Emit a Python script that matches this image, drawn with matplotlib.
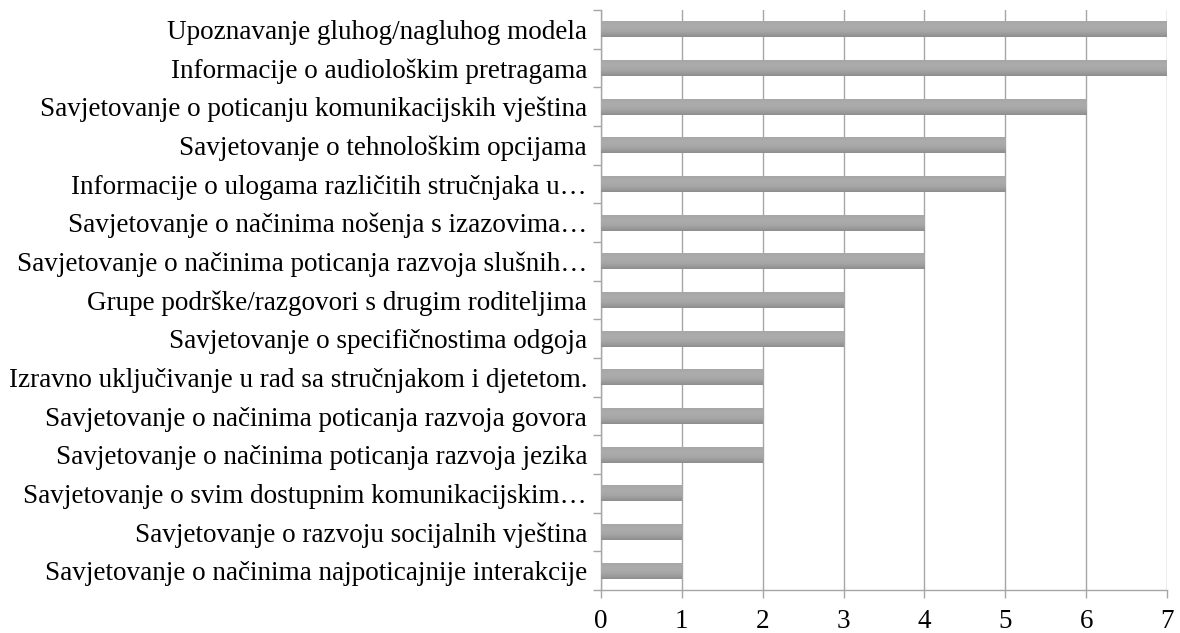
import numpy as np
import matplotlib
matplotlib.use('Agg')
from matplotlib import pyplot as plt

# categories listed from bottom to top
categories = [
    'Savjetovanje o načinima najpoticajnije interakcije',
    'Savjetovanje o razvoju socijalnih vještina',
    'Savjetovanje o svim dostupnim komunikacijskim…',
    'Savjetovanje o načinima poticanja razvoja jezika',
    'Savjetovanje o načinima poticanja razvoja govora',
    'Izravno uključivanje u rad sa stručnjakom i djetetom.',
    'Savjetovanje o specifičnostima odgoja',
    'Grupe podrške/razgovori s drugim roditeljima',
    'Savjetovanje o načinima poticanja razvoja slušnih…',
    'Savjetovanje o načinima nošenja s izazovima…',
    'Informacije o ulogama različitih stručnjaka u…',
    'Savjetovanje o tehnološkim opcijama',
    'Savjetovanje o poticanju komunikacijskih vještina',
    'Informacije o audiološkim pretragama',
    'Upoznavanje gluhog/nagluhog modela',
]
values = [1, 1, 1, 2, 2, 2, 3, 3, 4, 4, 5, 5, 6, 7, 7]
x_ticks = [0, 1, 2, 3, 4, 5, 6, 7]

plt.rcParams['font.family'] = ['Liberation Serif', 'DejaVu Serif']

fig = plt.figure(figsize=(11.8, 6.33), dpi=100)
ax = fig.add_axes([601 / 1180, 1 - 590 / 633, 566 / 1180, 580 / 633])

grid_col = '#a6a6a6'
y = np.arange(len(categories))
bars = ax.barh(y, values, height=0.42, color='#9c9c9c', zorder=2)

# vertical gradient on each bar (lighter top, darker bottom)
grad = np.linspace(0, 1, 64).reshape(-1, 1)
cmap = matplotlib.colors.LinearSegmentedColormap.from_list(
    'bar', ['#8e8e8e', '#a6a6a6', '#acacac', '#a6a6a6'])
for b in bars:
    x0, y0 = b.get_x(), b.get_y()
    w, h = b.get_width(), b.get_height()
    im = ax.imshow(grad, cmap=cmap, aspect='auto', origin='lower',
                   extent=(x0, x0 + w, y0, y0 + h), zorder=3)
    im.set_clip_path(b)

ax.set_xlim(0, 7)
ax.set_ylim(-0.5, len(categories) - 0.5)
ax.set_xticks(x_ticks)
ax.set_xticklabels([str(t) for t in x_ticks], fontsize=19.5)
ax.set_yticks(y)
ax.set_yticklabels(categories, fontsize=19.5)
ax.tick_params(axis='y', length=0, pad=10)
ax.set_yticks(np.arange(-0.5, len(categories), 1), minor=True)
ax.tick_params(axis='y', which='minor', length=6, color=grid_col, width=1)
ax.tick_params(axis='x', length=6, color=grid_col, width=1, pad=8)

ax.grid(axis='x', color=grid_col, linewidth=1, zorder=0)
ax.set_axisbelow(True)
for side in ('top', 'right'):
    ax.spines[side].set_visible(False)
for side in ('left', 'bottom'):
    ax.spines[side].set_color(grid_col)
    ax.spines[side].set_linewidth(1)

fig.savefig('out.png', dpi=100)
